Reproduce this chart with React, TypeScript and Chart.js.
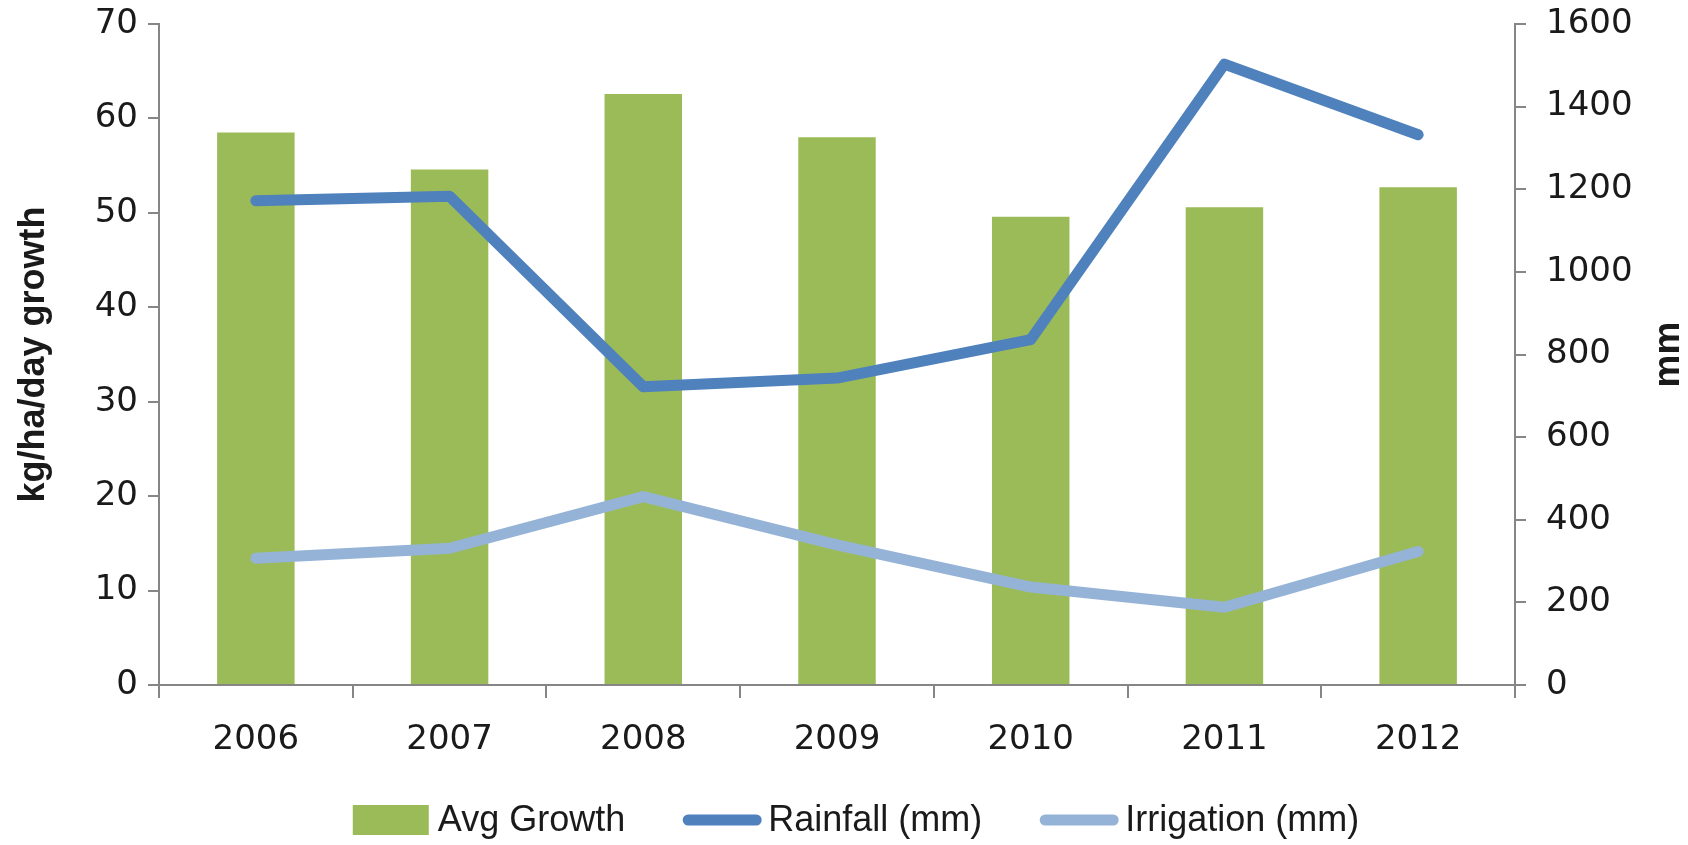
import React, { useEffect, useRef } from "react";
import { Chart, registerables } from "chart.js";

Chart.register(...registerables);

const years = ["2006", "2007", "2008", "2009", "2010", "2011", "2012"];
const avgGrowth = [58.5, 54.6, 62.6, 58.0, 49.6, 50.6, 52.7];
const rainfall = [1172, 1183, 722, 743, 836, 1503, 1332];
const irrigation = [307, 331, 456, 339, 237, 188, 323];

const leftTitle = "kg/ha/day growth";
const rightTitle = "mm";
const legendLabels = ["Avg Growth", "Rainfall (mm)", "Irrigation (mm)"];

const GREEN = "#9BBB59";
const BLUE = "#4F81BD";
const LIGHT = "#95B3D7";
const AXIS = "#868686";
const TEXT = "#1a1a1a";
const LINE_W = 11;

const rightTitlePlugin = {
  id: "rightTitle",
  afterDraw(chart: any) {
    const ctx = chart.ctx;
    const area = chart.chartArea;
    ctx.save();
    ctx.font = "bold 37px 'Liberation Sans', Arial, sans-serif";
    ctx.fillStyle = TEXT;
    ctx.textAlign = "center";
    ctx.textBaseline = "middle";
    ctx.translate(chart.width - 19, (area.top + area.bottom) / 2);
    ctx.rotate(-Math.PI / 2);
    ctx.fillText(rightTitle, 0, 0);
    ctx.restore();
  },
};

const customLegendPlugin = {
  id: "customLegend",
  afterDraw(chart: any) {
    const ctx = chart.ctx;
    const font = "36px 'Liberation Sans', Arial, sans-serif";
    const boxW = 78;
    const gap = 7;
    const spacing = 58;
    const kinds = ["rect", "line", "line"];
    const colors = [GREEN, BLUE, LIGHT];
    ctx.save();
    ctx.font = font;
    const widths = legendLabels.map((t) => boxW + gap + ctx.measureText(t).width);
    const total = widths.reduce((a, b) => a + b, 0) + spacing * (widths.length - 1);
    let x = chart.width / 2 + 12 - total / 2;
    const y = chart.height - 25;
    legendLabels.forEach((t, i) => {
      if (kinds[i] === "rect") {
        ctx.fillStyle = colors[i];
        ctx.fillRect(x, y - 15, boxW - 2, 30);
      } else {
        ctx.strokeStyle = colors[i];
        ctx.lineWidth = LINE_W;
        ctx.lineCap = "round";
        ctx.beginPath();
        ctx.moveTo(x + 5, y);
        ctx.lineTo(x + boxW - 5, y);
        ctx.stroke();
      }
      ctx.fillStyle = TEXT;
      ctx.textAlign = "left";
      ctx.textBaseline = "middle";
      ctx.fillText(t, x + boxW + gap, y + 1);
      x += widths[i] + spacing;
    });
    ctx.restore();
  },
};

export default function App() {
  const ref = useRef<HTMLCanvasElement>(null);
  useEffect(() => {
    const tickFont = { family: "'DejaVu Sans', sans-serif", size: 34 };
    const plain = (v: any) => String(v);
    const chart = new Chart(ref.current as HTMLCanvasElement, {
      type: "bar",
      data: {
        labels: years,
        datasets: [
          {
            type: "bar",
            label: legendLabels[0],
            data: avgGrowth,
            backgroundColor: GREEN,
            yAxisID: "y",
            order: 3,
            barPercentage: 0.4,
            categoryPercentage: 1,
          } as any,
          {
            type: "line",
            label: legendLabels[1],
            data: rainfall,
            borderColor: BLUE,
            backgroundColor: BLUE,
            borderWidth: LINE_W,
            borderCapStyle: "round",
            borderJoinStyle: "round",
            pointRadius: 0,
            yAxisID: "y1",
            order: 1,
          },
          {
            type: "line",
            label: legendLabels[2],
            data: irrigation,
            borderColor: LIGHT,
            backgroundColor: LIGHT,
            borderWidth: LINE_W,
            borderCapStyle: "round",
            borderJoinStyle: "round",
            pointRadius: 0,
            yAxisID: "y1",
            order: 2,
          },
        ],
      },
      options: {
        animation: false,
        responsive: false,
        maintainAspectRatio: false,
        layout: { padding: { top: 24, left: 0, right: 0, bottom: 0 } },
        plugins: {
          tooltip: { enabled: false },
          legend: { display: false },
        },
        scales: {
          x: {
            grid: {
              offset: true,
              drawOnChartArea: false,
              tickLength: 13,
              color: AXIS,
              lineWidth: 2,
            },
            border: { color: AXIS, width: 2 },
            ticks: { font: tickFont, color: TEXT, padding: 22 },
            afterFit: (s: any) => {
              s.height = 160;
            },
          },
          y: {
            position: "left",
            min: 0,
            max: 70,
            ticks: { stepSize: 10, font: tickFont, color: TEXT, padding: 10, callback: plain },
            grid: { drawOnChartArea: false, tickLength: 11, color: AXIS, lineWidth: 2 },
            border: { color: AXIS, width: 2 },
            title: {
              display: true,
              text: leftTitle,
              color: TEXT,
              font: { family: "'Liberation Sans', Arial, sans-serif", size: 36, weight: "bold" },
              padding: { top: 12, bottom: 0 },
            },
            afterFit: (s: any) => {
              s.width = 159;
              s.paddingTop = 0;
              s.paddingBottom = 0;
            },
          },
          y1: {
            position: "right",
            min: 0,
            max: 1600,
            ticks: { stepSize: 200, font: tickFont, color: TEXT, padding: 20, callback: plain },
            grid: { drawOnChartArea: false, tickLength: 11, color: AXIS, lineWidth: 2 },
            border: { color: AXIS, width: 2 },
            afterFit: (s: any) => {
              s.width = 173;
              s.paddingTop = 0;
              s.paddingBottom = 0;
            },
          },
        },
      },
      plugins: [rightTitlePlugin, customLegendPlugin],
    });
    return () => chart.destroy();
  }, []);
  return (
    <div style={{ position: "fixed", left: 0, top: 0, width: 1688, height: 845, background: "#fff" }}>
      <canvas ref={ref} width={1688} height={845} style={{ width: 1688, height: 845, display: "block" }} />
    </div>
  );
}
